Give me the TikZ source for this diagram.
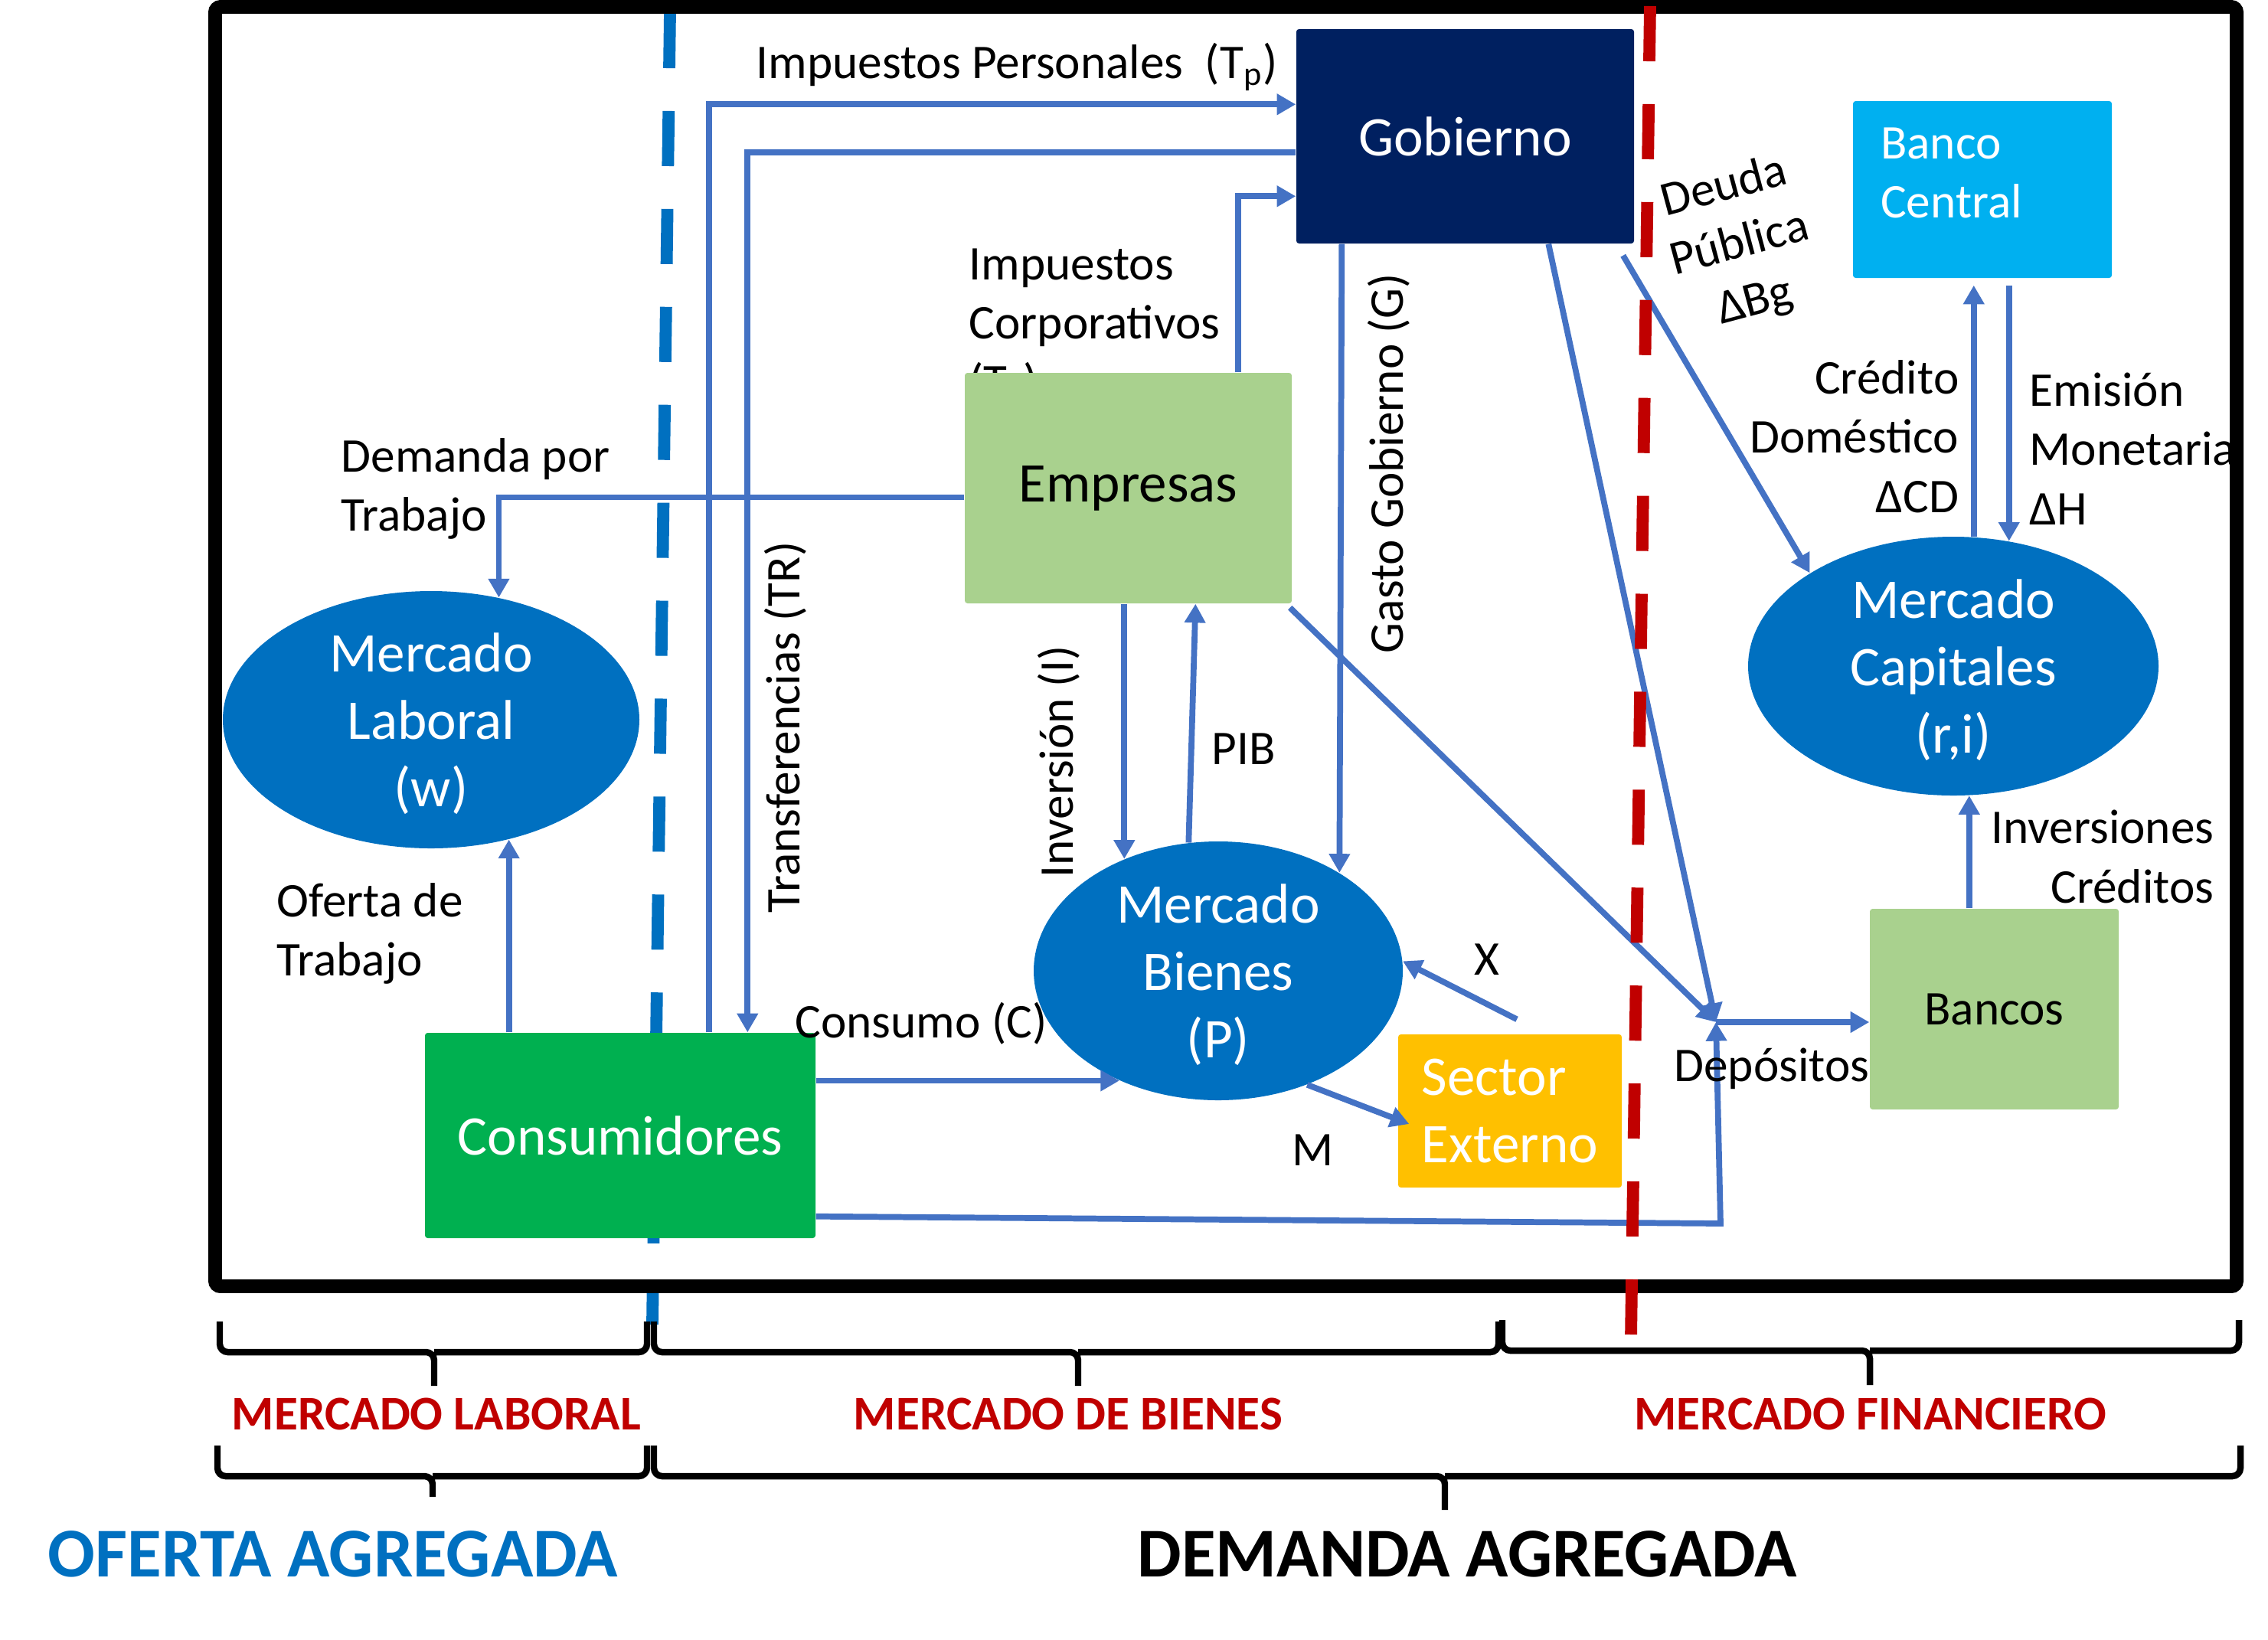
\documentclass[tikz,border=0pt]{standalone}
\usepackage{fontspec}
\setmainfont{Carlito}
\usetikzlibrary{arrows.meta,calc,shapes.geometric}
\definecolor{flowblue}{HTML}{4472C4}
\definecolor{mktblue}{HTML}{0070C0}
\definecolor{govnavy}{HTML}{002060}
\definecolor{firmgreen}{HTML}{A9D18E}
\definecolor{consgreen}{HTML}{00B050}
\definecolor{extgold}{HTML}{FFC000}
\definecolor{cbcyan}{HTML}{00B0F0}
\definecolor{divred}{HTML}{C00000}

\begin{document}
\begin{tikzpicture}[box/.style={rectangle, rounded corners=1pt, inner sep=0pt, text=white, font=\fontsize{20.8}{25}\selectfont},
			mkt/.style={ellipse, fill=mktblue, inner sep=0pt},
			mkttext/.style={text=white, align=center, font=\fontsize{20.8}{25}\selectfont},
			lbl/.style={font=\fontsize{18}{22}\selectfont, inner sep=0pt},
			flow/.style={draw=flowblue, line width=2.2pt, -{Triangle[length=7pt,width=7.5pt]}},
			flat/.style={draw=flowblue, line width=2.2pt},
			divider/.style={line width=4.5pt, dash pattern=on 20.5pt off 15.9pt},
			brace/.style={line width=2.4pt, rounded corners=3pt},
			sector/.style={font=\fontsize{18}{22}\selectfont\bfseries, text=divred, inner sep=0pt},
			total/.style={font=\fontsize{26}{30}\selectfont\bfseries, inner sep=0pt}]
			\useasboundingbox (0,0) rectangle (29.62,-21.41);
			
			\draw[divider, draw=mktblue] (8.75,-0.17) -- (8.52,-17.30);
			\node[lbl, anchor=west, align=left] (tclbl) at (12.65,-4.27) {Impuestos\\Corporativos\\(T\textsubscript{c})};
			
			\node[box, fill=govnavy, minimum width=4.41cm, minimum height=2.80cm] (gob) at (19.135,-1.78) {Gobierno};
			\node[box, fill=firmgreen, text=black, minimum width=4.27cm, minimum height=3.01cm] (emp) at (14.735,-6.375) {Empresas};
			\node[box, fill=consgreen, minimum width=5.10cm, minimum height=2.68cm] (cons) at (8.10,-14.83) {Consumidores};
			\node[box, fill=extgold, align=left, minimum width=2.92cm, minimum height=2.00cm] (ext) at (19.72,-14.51) {Sector\\Externo};
			\node[box, fill=cbcyan, minimum width=3.38cm, minimum height=2.31cm, label={[lbl, text=white, align=left, xshift=-0.405cm, yshift=0.215cm]center:Banco\\Central}] (bc) at (25.89,-2.475) {};
			\node[box, fill=firmgreen, text=black, font=\fontsize{18}{22}\selectfont, minimum width=3.25cm, minimum height=2.62cm] (bank) at (26.045,-13.18) {Bancos};
			\node[mkt, minimum width=5.44cm, minimum height=3.36cm, label={[mkttext, yshift=-0.05cm]center:Mercado\\Laboral\\(w)}] (lab) at (5.63,-9.40) {};
			\node[mkt, minimum width=4.82cm, minimum height=3.38cm, label={[mkttext, yshift=-0.05cm]center:Mercado\\Bienes\\(P)}] (bien) at (15.91,-12.68) {};
			\node[mkt, minimum width=5.36cm, minimum height=3.38cm, label={[mkttext, yshift=-0.05cm]center:Mercado\\Capitales\\(r,i)}] (cap) at (25.51,-8.70) {};
			\coordinate (dep) at (22.41,-13.35);
			
			\draw[flow] ($(cons.north west)+(3.72,0)$) |- ($(gob.north west)+(0,-0.99)$);
			\draw[flow] ($(gob.north west)+(0,-1.62)$) -| ($(cons.north west)+(4.22,0)$);
			\draw[flow] ($(emp.north west)+(3.58,0)$) |- ($(gob.north west)+(0,-2.19)$);
			\draw[flow] ($(emp.west)+(0,-0.12)$) -| (lab.61);
			\draw[flow] (lab.-57 |- cons.north) -- (lab.-57);
			\draw[flow] (bien.130 |- emp.south) -- (bien.130);
			\draw[flow] (bien.103) -- ($(bien.103 |- emp.south)+(0.09,0)$);
			\draw[flow] ($(bien.39 |- gob.south)+(0.03,0)$) -- (bien.39);
			\draw[flow] (cons.east |- bien.228) -- (bien.228);
			\draw[flow] ($(ext.north)+(0.09,0.19)$) -- (bien.3);
			\draw[flow] (bien.-52) -- ($(ext.west)+(0.15,-0.17)$);
			\draw[flow] ($(emp.south east)+(-0.03,-0.05)$) -- (dep);
			\draw[flow] ($(gob.south west)+(3.30,0)$) -- (dep);
			\draw[flow] ($(cons.south east)+(0,0.29)$) -- ($(dep)+(0.06,-2.63)$) -- (dep);
			\draw[flow] (dep) -- (dep -| bank.west);
			\draw[flow] ($(gob.south east)+(-0.15,-0.15)$) -- (cap.147);
			\draw[flow] (cap.81) -- ($(cap.81 |- bc.south)+(0,-0.09)$);
			\draw[flow] ($(cap.66 |- bc.south)+(0,-0.09)$) -- (cap.66);
			\draw[flow] (cap.-83 |- bank.north) -- (cap.-83);
			
			\node[lbl, anchor=west] (tplbl) at (9.87,-0.87) {Impuestos Personales\ \ (T\textsubscript{p})};
			\node[lbl, rotate=90] (trlbl) at (10.26,-9.50) {Transferencias (TR)};
			\node[lbl, rotate=90] (invlbl) at (13.83,-9.95) {Inversión (I)};
			\node[lbl, rotate=90] (glbl) at (18.14,-6.05) {Gasto Gobierno (G)};
			\node[lbl] (piblbl) at (16.24,-9.78) {PIB};
			\node[lbl, anchor=west, align=left] (dtlbl) at (4.45,-6.385) {Demanda por\\Trabajo};
			\node[lbl, anchor=west, align=left] (otlbl) at (3.61,-12.195) {Oferta de\\Trabajo};
			\node[lbl] (clbl) at (12.03,-13.37) {Consumo (C)};
			\node[lbl] (xlbl) at (19.42,-12.53) {X};
			\node[lbl] (mlbl) at (17.15,-15.02) {M};
			\node[lbl, rotate=15, align=center] (bglbl) at (22.72,-3.20) {Deuda\\Pública\\ΔBg};
			\node[lbl, anchor=east, align=right] (cdlbl) at (25.59,-5.70) {Crédito\\Doméstico\\ΔCD};
			\node[lbl, anchor=west, align=left] (hlbl) at (26.50,-5.86) {Emisión\\Monetaria\\ΔH};
			\node[lbl, anchor=east, align=right] (icrlbl) at (28.92,-11.19) {Inversiones\\Créditos};
			\node[lbl] (deplbl) at (23.14,-13.96) {Depósitos};
			
			\draw[line width=5.1pt, rounded corners=2pt] (2.81,-0.09) rectangle (29.21,-16.80);
			\draw[divider, draw=divred] (21.55,-0.08) -- (21.30,-17.47);
			
			\draw[brace] (2.87,-17.26) |- (5.67,-17.66) -- (5.67,-18.10) (5.67,-17.66) -| (8.45,-17.26);
			\draw[brace] (8.54,-17.26) |- (14.08,-17.66) -- (14.08,-18.10) (14.08,-17.66) -| (19.57,-17.26);
			\draw[brace] (19.62,-17.24) |- (24.42,-17.64) -- (24.42,-18.09) (24.42,-17.64) -| (29.24,-17.24);
			\draw[brace] (2.84,-18.88) |- (5.65,-19.28) -- (5.65,-19.55) (5.65,-19.28) -| (8.45,-18.88);
			\draw[brace] (8.54,-18.88) |- (18.87,-19.28) -- (18.87,-19.72) (18.87,-19.28) -| (29.26,-18.88);
			
			\node[sector] (mllbl) at (5.70,-18.47) {MERCADO LABORAL};
			\node[sector] (mblbl) at (13.95,-18.47) {MERCADO DE BIENES};
			\node[sector] (mflbl) at (24.43,-18.47) {MERCADO FINANCIERO};
			\node[total, text=mktblue] (oalbl) at (4.35,-20.30) {OFERTA AGREGADA};
			\node[total] (dalbl) at (19.16,-20.30) {DEMANDA AGREGADA};
			\end{tikzpicture}
\end{document}
